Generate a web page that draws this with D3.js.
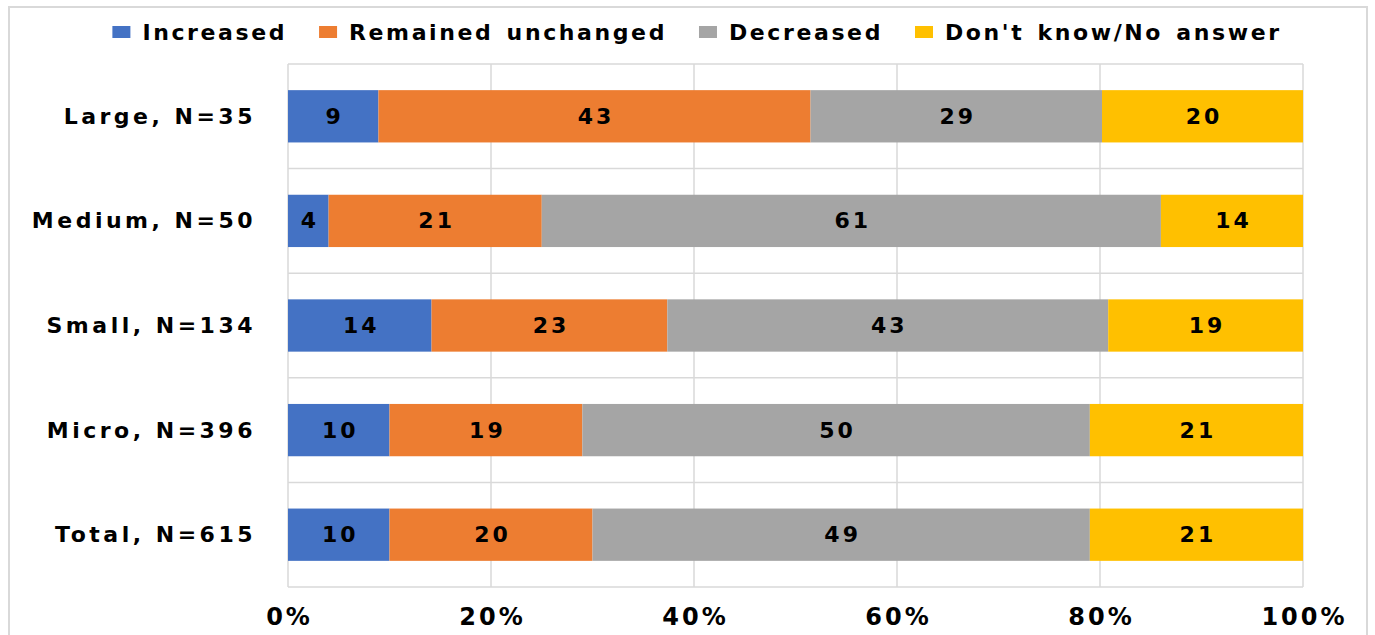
<!DOCTYPE html>
<html><head><meta charset="utf-8">
<script src="https://cdn.jsdelivr.net/npm/d3@7"></script>
<style>
html,body{margin:0;padding:0;background:#fff;}
text{font-family:"DejaVu Sans",sans-serif;font-weight:bold;fill:#000;}
</style></head>
<body>
<svg id="chart" width="1375" height="635"></svg>
<script>
const categories = ["Large, N=35","Medium, N=50","Small, N=134","Micro, N=396","Total, N=615"];
const seriesNames = ["Increased","Remained unchanged","Decreased","Don't know/No answer"];
const increased = [9,4,14,10,10];
const unchanged = [43,21,23,19,20];
const decreased = [29,61,43,50,49];
const dontKnow  = [20,14,19,21,21];
const tickValues = [0,0.2,0.4,0.6,0.8,1];
const colors = ["#4472C4","#ED7D31","#A5A5A5","#FFC000"];

const seriesVals = [increased, unchanged, decreased, dontKnow];
const rows = categories.map((c,i)=>{
  const o = {cat:c};
  const tot = d3.sum(seriesVals, s=>s[i]);
  seriesNames.forEach((n,j)=>{ o[n] = seriesVals[j][i]/tot; o[n+"_raw"] = seriesVals[j][i]; });
  return o;
});
const stack = d3.stack().keys(seriesNames)(rows);

const svg = d3.select("#chart");
const L=288, R=1303, T=64, B=587;

// outer frame
svg.append("rect").attr("x",9).attr("y",7).attr("width",1358).attr("height",640)
  .attr("fill","none").attr("stroke","#d9d9d9").attr("stroke-width",2);

const x = d3.scaleLinear().domain([0,1]).range([L,R]);
const y = d3.scaleBand().domain(categories).range([T,B]).paddingInner(0.5).paddingOuter(0.25);

// gridlines
const g = svg.append("g");
g.selectAll("line.v").data(tickValues).join("line")
  .attr("x1",d=>x(d)).attr("x2",d=>x(d)).attr("y1",T).attr("y2",B)
  .attr("stroke","#d9d9d9").attr("stroke-width",1.5);
const hb = d3.range(categories.length+1).map(i=>T + i*y.step());
g.selectAll("line.h").data(hb).join("line")
  .attr("x1",L).attr("x2",R).attr("y1",d=>d).attr("y2",d=>d)
  .attr("stroke","#d9d9d9").attr("stroke-width",1.5);

// bars
const layers = svg.append("g").selectAll("g").data(stack).join("g")
  .attr("fill",(d,i)=>colors[i]);
layers.selectAll("rect").data(d=>d).join("rect")
  .attr("x",d=>x(d[0])).attr("width",d=>x(d[1])-x(d[0]))
  .attr("y",d=>y(d.data.cat)).attr("height",y.bandwidth());

// labels
stack.forEach((s,j)=>{
  svg.append("g").selectAll("text").data(s).join("text")
    .attr("x",d=>(x(d[0])+x(d[1]))/2 + 1.5)
    .attr("y",d=>y(d.data.cat)+y.bandwidth()/2)
    .attr("text-anchor","middle").attr("dominant-baseline","central")
    .style("font-size","22px").style("letter-spacing","3px")
    .text(d=>d.data[s.key+"_raw"]);
});

// y axis labels
svg.append("g").selectAll("text").data(categories).join("text")
  .attr("x",256).attr("y",d=>y(d)+y.bandwidth()/2)
  .attr("text-anchor","end").attr("dominant-baseline","central")
  .style("font-size","22px").style("letter-spacing","3.5px")
  .text(d=>d);

// x axis labels
svg.append("g").selectAll("text").data(tickValues).join("text")
  .attr("x",d=>x(d)+1.5).attr("y",617)
  .attr("text-anchor","middle").attr("dominant-baseline","central")
  .style("font-size","24px").style("letter-spacing","3px")
  .text(d=>d3.format(".0%")(d));

// legend
const leg = svg.append("g");
const items = seriesNames.map((n,i)=>{
  const gi = leg.append("g");
  gi.append("rect").attr("width",18).attr("height",12).attr("y",-6).attr("fill",colors[i]);
  const t = gi.append("text").attr("x",30).attr("y",0).attr("dominant-baseline","central")
    .style("font-size","22px").style("letter-spacing","2.6px").style("word-spacing","3px").text(n);
  return {gi, w: 30 + t.node().getComputedTextLength()};
});
const gap = 32;
const totalW = d3.sum(items,d=>d.w) + gap*(items.length-1);
let cx = 697 - totalW/2;
items.forEach(it=>{ it.gi.attr("transform",`translate(${cx},32)`); cx += it.w + gap; });
</script>
</body></html>
